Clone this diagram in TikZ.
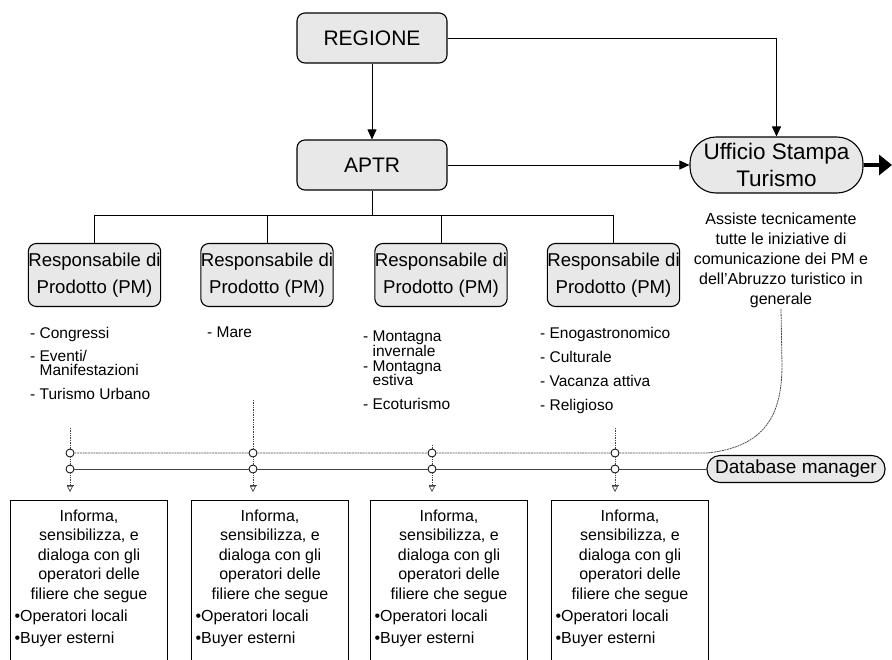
\documentclass[tikz,border=0pt]{standalone}
\usepackage{fontspec}
\setmainfont{Liberation Sans}
\usetikzlibrary{arrows.meta}

% text of the four lower boxes
\newcommand{\filieretext}{%
  \parbox[t][185pt][t]{149pt}{\fontsize{16}{19.5}\selectfont
    \centering Informa,\\ sensibilizza, e\\ dialoga con gli\\ operatori delle\\ filiere che segue\par
    \vspace{2.5pt}\raggedright •Operatori locali\par
    \vspace{2.5pt}•Buyer esterni\par}}

\begin{document}
\begin{tikzpicture}[x=1pt,y=-1pt,
  every node/.style={inner sep=0pt},
  conn/.style={line width=0.9pt, -{Triangle[width=9pt,length=10pt]}},
  plain/.style={line width=0.9pt},
  topbox/.style={draw=black, line width=1.1pt, rounded corners=8pt, fill=black!9,
    minimum width=150pt, minimum height=50pt, font=\fontsize{21}{25}\selectfont},
  pmbox/.style={draw=black, line width=1.1pt, rounded corners=8pt, fill=black!9,
    minimum width=131pt, minimum height=63pt, align=center,
    font=\fontsize{18.6}{27}\selectfont},
  pillbox/.style={draw=black, line width=1.1pt, fill=black!9, align=center},
  listtext/.style={anchor=north west, align=left, font=\fontsize{15.5}{14.5}\selectfont},
  infobox/.style={draw=black, line width=1.2pt, anchor=north, inner xsep=4pt, inner ysep=9pt},
  joint/.style={circle, draw=black, line width=0.8pt, fill=white, minimum size=8pt},
  dotline/.style={line width=0.8pt, black!75, dash pattern=on 0.8pt off 0.9pt},
  busA/.style={line width=0.8pt, black!70, dash pattern=on 2pt off 0.7pt},
  busB/.style={line width=0.8pt, black!75, dash pattern=on 1.2pt off 0.8pt},
  drop/.style={dotline, -{Bar[width=7pt,line width=0.7pt]Triangle[open,width=6pt,length=6pt,line width=0.7pt]}}
]
\useasboundingbox (0,0) rectangle (892,659);
\clip (0,0) rectangle (892,659);

% top of the hierarchy
\node[topbox] (reg) at (372,38) {REGIONE};
\node[topbox] (aptr) at (372,165) {APTR};
\node[pillbox, rounded corners=26pt, minimum width=173pt, minimum height=56pt,
      font=\fontsize{22.5}{27}\selectfont] (uff) at (776.5,165) {Ufficio Stampa\\Turismo};
\node[align=center, anchor=north, font=\fontsize{16}{20}\selectfont] (asst) at (781,213)
  {Assiste tecnicamente\\tutte le iniziative di\\comunicazione dei PM e\\dell'Abruzzo turistico in\\generale};
\coordinate (out) at (892,165);

\draw[conn] (reg) -- (aptr);
\draw[conn] (reg.east) -| (uff.north);
\draw[conn] (aptr) -- (uff);
\draw[line width=4pt, -{Triangle[width=20pt,length=13pt]}] (uff.east) -- (out);

% product managers
\node[pmbox] (pm1) at (94.5,275) {Responsabile di\\Prodotto (PM)};
\node[pmbox] (pm2) at (267,275) {Responsabile di\\Prodotto (PM)};
\node[pmbox] (pm3) at (441,275) {Responsabile di\\Prodotto (PM)};
\node[pmbox] (pm4) at (613.5,275) {Responsabile di\\Prodotto (PM)};

\coordinate (j) at (372,215);
\draw[plain] (aptr.south) -- (j);
\draw[plain] (pm1.north) -- (pm1.north |- j) -- (pm4.north |- j) -- (pm4.north);
\draw[plain] (pm2.north) -- (pm2.north |- j);
\draw[plain] (pm3.north) -- (pm3.north |- j);

% product lines
\node[listtext] (l1) at (30,327) {- Congressi\\[8.5pt]- Eventi/\\\phantom{- }Manifestazioni\\[9.5pt]- Turismo Urbano};
\node[listtext] (l2) at (207,327) {- Mare};
\node[listtext] (l3) at (363,331) {- Montagna\\\phantom{- }invernale\\[0.5pt]- Montagna\\\phantom{- }estiva\\[9pt]- Ecoturismo};
\node[listtext] (l4) at (540,327) {- Enogastronomico\\[9.5pt]- Culturale\\[9.5pt]- Vacanza attiva\\[9.5pt]- Religioso};

% joints on the two buses
\node[joint] (a1) at (70,453) {};
\node[joint] (a2) at (253,453) {};
\node[joint] (a3) at (432,453) {};
\node[joint] (a4) at (615,453) {};
\node[joint] (b1) at (70,469) {};
\node[joint] (b2) at (253,469) {};
\node[joint] (b3) at (432,469) {};
\node[joint] (b4) at (615,469) {};

\node[pillbox, rounded corners=13pt, minimum width=178pt, minimum height=27pt,
      font=\fontsize{19}{22}\selectfont] (db) at (796,469) {Database manager};

\coordinate (t1) at (70,428);
\coordinate (t2) at (253,400);
\coordinate (t3) at (432,445);
\coordinate (t4) at (615,428);
\coordinate (g1) at (70,492);
\coordinate (g2) at (253,492);
\coordinate (g3) at (432,492);
\coordinate (g4) at (615,492);
\coordinate (bend) at (707,453);
\coordinate (rise) at (782,365);

\foreach \i in {1,2,3,4} {
  \draw[dotline] (t\i) -- (a\i);
  \draw[dotline] (a\i) -- (b\i);
  \draw[drop] (b\i) -- (g\i);
}
\draw[busA] (a1) -- (a2) -- (a3) -- (a4) -- (bend)
  .. controls (765,447) and (782,415) .. (rise) -- (asst.south);
\draw[busB] (b1) -- (b2) -- (b3) -- (b4) -- (db);

% lower boxes
\node[infobox] (f1) at (89,500) {\filieretext};
\node[infobox] (f2) at (270,500) {\filieretext};
\node[infobox] (f3) at (449,500) {\filieretext};
\node[infobox] (f4) at (630,500) {\filieretext};
\end{tikzpicture}
\end{document}
